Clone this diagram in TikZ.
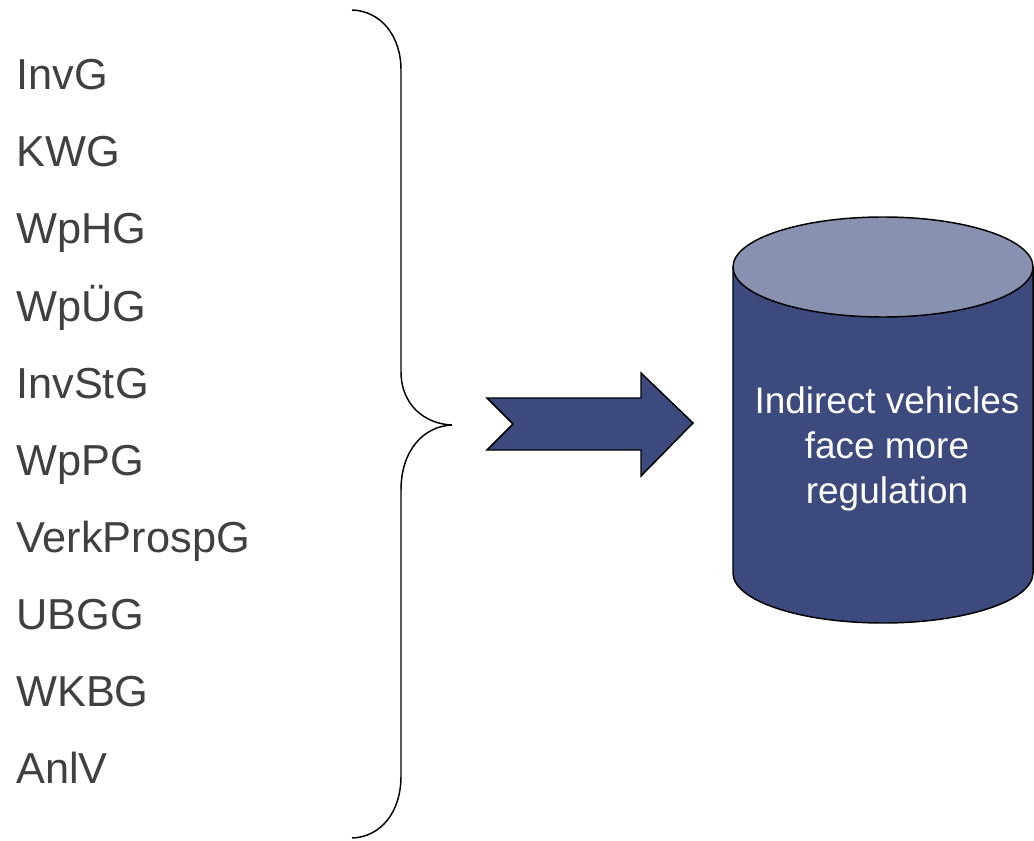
\documentclass[tikz,border=0pt]{standalone}
\usepackage{fontspec}
\setmainfont{Liberation Sans}
\definecolor{txt}{RGB}{64,64,64}
\definecolor{navy}{RGB}{61,74,125}
\definecolor{lid}{RGB}{137,145,176}
\begin{document}
\begin{tikzpicture}[x=0.75pt,y=-0.75pt,
  item/.style={anchor=base west, text=txt, font=\fontsize{32.5}{38}\selectfont, inner sep=0pt},
  outline/.style={draw=black, line width=1.1pt},
  cyltxt/.style={text=white, align=center, font=\fontsize{27.7}{33.75}\selectfont, inner sep=0pt}]
\useasboundingbox (0,0) rectangle (1034,841);
% list
\node[item] (l1) at (16,90) {InvG};
\node[item] (l2) at (16,167) {KWG};
\node[item] (l3) at (16,244) {WpHG};
\node[item] (l4) at (16,321) {WpÜG};
\node[item] (l5) at (16,398) {InvStG};
\node[item] (l6) at (16,475) {WpPG};
\node[item] (l7) at (16,552) {VerkProspG};
\node[item] (l8) at (16,629) {UBGG};
\node[item] (l9) at (16,706) {WKBG};
\node[item] (l10) at (16,783) {AnlV};
% brace
\draw[line width=1.1pt] (352,10) .. controls (381,11) and (401,36) .. (401,70)
  -- (401,372) .. controls (401,404) and (424,424) .. (452,425)
  .. controls (424,426) and (401,450) .. (401,490)
  -- (401,776) .. controls (401,812) and (381,837) .. (352,838);
% arrow
\draw[outline, fill=navy, line join=miter] (487,398) -- (641,398) -- (641,373) -- (693,423)
  -- (641,476) -- (641,450) -- (487,450) -- (513,424) -- cycle;
% cylinder
\draw[outline, fill=navy] (733,267) -- (733,573) arc[start angle=180,end angle=0,x radius=150,y radius=50]
  -- (1033,267) -- cycle;
\draw[outline, fill=lid] (883,267) ellipse [x radius=150, y radius=50];
\node[cyltxt] (cyl) at (887,449) {Indirect vehicles\\face more\\regulation};
\end{tikzpicture}
\end{document}
